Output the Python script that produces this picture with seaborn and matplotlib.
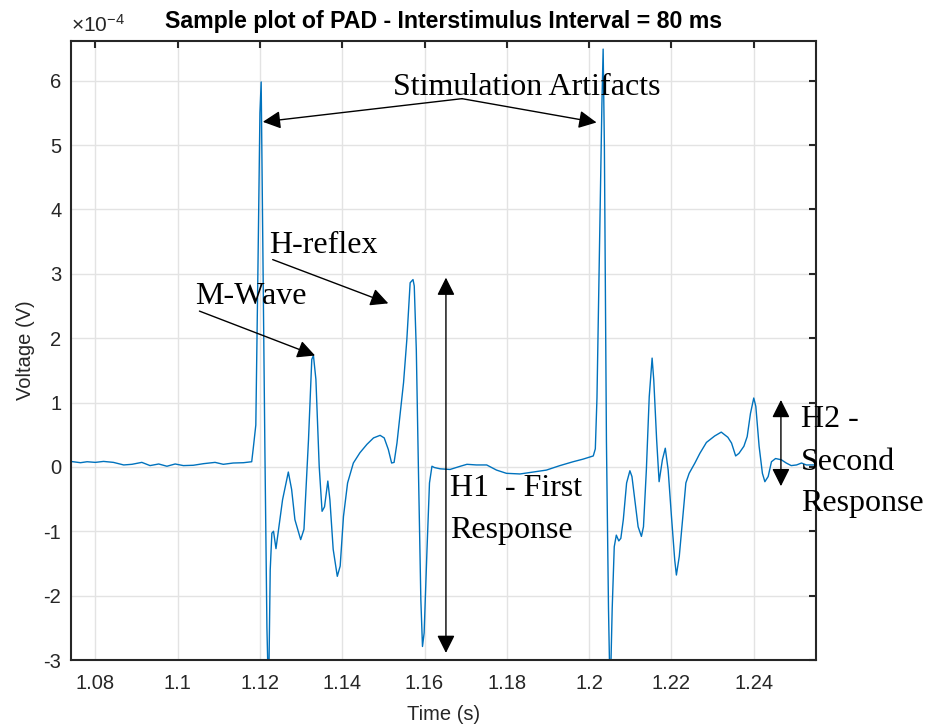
import numpy as np
import pandas as pd
import matplotlib
matplotlib.use("Agg")
import matplotlib.pyplot as plt
import seaborn as sns

# ---- data (time in s, voltage in units of 1e-4 V) ----
time_s = [
    1.0740, 1.0764, 1.0780, 1.0800, 1.0820, 1.0844, 1.0869, 1.0889, 1.0913, 1.0933,
    1.0954, 1.0974, 1.0994, 1.1014, 1.1038, 1.1063, 1.1091, 1.1111, 1.1135, 1.1160,
    1.1180, 1.1184, 1.1190, 1.1195, 1.1200, 1.1203, 1.1207, 1.1212, 1.1217, 1.1221,
    1.1225, 1.1229, 1.1233, 1.1239, 1.1255, 1.1269, 1.1277, 1.1285, 1.1299, 1.1307,
    1.1318, 1.1326, 1.1330, 1.1336, 1.1344, 1.1351, 1.1357, 1.1365, 1.1370, 1.1378,
    1.1388, 1.1395, 1.1403, 1.1413, 1.1427, 1.1443, 1.1460, 1.1476, 1.1492, 1.1502,
    1.1512, 1.1520, 1.1526, 1.1533, 1.1541, 1.1549, 1.1557, 1.1565, 1.1572, 1.1575,
    1.1580, 1.1585, 1.1591, 1.1595, 1.1599, 1.1606, 1.1612, 1.1618, 1.1624, 1.1638,
    1.1662, 1.1687, 1.1703, 1.1726, 1.1751, 1.1775, 1.1799, 1.1832, 1.1864, 1.1896,
    1.1929, 1.1961, 1.1985, 1.2010, 1.2015, 1.2019, 1.2026, 1.2031, 1.2034, 1.2037,
    1.2042, 1.2047, 1.2051, 1.2056, 1.2061, 1.2066, 1.2072, 1.2077, 1.2083, 1.2091,
    1.2099, 1.2104, 1.2111, 1.2119, 1.2127, 1.2132, 1.2139, 1.2146, 1.2153, 1.2157,
    1.2164, 1.2170, 1.2178, 1.2185, 1.2192, 1.2200, 1.2208, 1.2212, 1.2219, 1.2227,
    1.2235, 1.2243, 1.2257, 1.2269, 1.2285, 1.2305, 1.2321, 1.2337, 1.2346, 1.2356,
    1.2364, 1.2376, 1.2384, 1.2392, 1.2400, 1.2405, 1.2413, 1.2421, 1.2427, 1.2435,
    1.2443, 1.2453, 1.2467, 1.2479, 1.2491, 1.2504, 1.2516, 1.2528, 1.2552,
]
voltage_e4 = [
    0.085, 0.065, 0.08, 0.07, 0.085, 0.07, 0.03, 0.04, 0.07, 0.02,
    0.045, 0.01, 0.045, 0.02, 0.025, 0.05, 0.07, 0.04, 0.06, 0.065,
    0.08, 0.3, 0.65, 3.0, 5.5, 5.98, 3.5, 0.3, -2.5, -3.6,
    -1.6, -1.03, -1.0, -1.27, -0.51, -0.08, -0.35, -0.82, -1.13, -0.97,
    0.42, 1.67, 1.73, 1.36, 0.01, -0.69, -0.62, -0.22, -0.51, -1.28,
    -1.70, -1.54, -0.77, -0.25, 0.06, 0.22, 0.35, 0.45, 0.49, 0.45,
    0.27, 0.06, 0.07, 0.37, 0.84, 1.31, 1.98, 2.86, 2.91, 2.81,
    1.82, 0.01, -2.06, -2.79, -2.58, -1.28, -0.25, 0.01, -0.01, -0.03,
    -0.04, 0.01, 0.04, 0.03, 0.03, -0.05, -0.10, -0.11, -0.08, -0.05,
    0.02, 0.08, 0.12, 0.17, 0.28, 1.07, 3.68, 5.64, 6.49, 4.99,
    0.4, -2.2, -3.6, -2.2, -1.24, -1.06, -1.15, -1.11, -0.82, -0.25,
    -0.06, -0.15, -0.51, -0.93, -1.08, -0.93, -0.05, 1.09, 1.69, 1.35,
    0.42, -0.23, 0.11, 0.29, -0.05, -0.77, -1.45, -1.68, -1.39, -0.82,
    -0.25, -0.10, 0.06, 0.21, 0.38, 0.48, 0.54, 0.46, 0.37, 0.17,
    0.21, 0.32, 0.47, 0.83, 1.07, 0.94, 0.32, -0.10, -0.23, -0.15,
    0.08, 0.13, 0.11, 0.06, 0.02, 0.03, 0.06, 0.03, 0.03,
]
x_ticks = [1.08, 1.10, 1.12, 1.14, 1.16, 1.18, 1.20, 1.22, 1.24]
x_tick_labels = ["1.08", "1.1", "1.12", "1.14", "1.16", "1.18", "1.2", "1.22", "1.24"]
y_ticks = [-3, -2, -1, 0, 1, 2, 3, 4, 5, 6]

title_text = "Sample plot of PAD - Interstimulus Interval = 80 ms"

df = pd.DataFrame({"Time (s)": time_s, "Voltage": voltage_e4})

sns.set_theme(style="white")
plt.rcParams["font.family"] = ["Liberation Sans", "DejaVu Sans"]
plt.rcParams["axes.unicode_minus"] = False
plt.rcParams["mathtext.fontset"] = "custom"
plt.rcParams["mathtext.rm"] = "Liberation Sans"
plt.rcParams["mathtext.it"] = "Liberation Sans:italic"

axis_col = "#262626"
fig = plt.figure(figsize=(9.25, 7.26), dpi=100)
ax = fig.add_axes([0.0768, 0.0909, 0.8057, 0.853])

sns.lineplot(data=df, x="Time (s)", y="Voltage", ax=ax, color="#0072BD",
             linewidth=1.0, sort=False, estimator=None)

ax.set_xlim(1.0741, 1.2552)
ax.set_ylim(-3, 6.62)
ax.set_xticks(x_ticks)
ax.set_xticklabels(x_tick_labels)
ax.set_yticks(y_ticks)
ax.set_yticklabels([str(v) for v in y_ticks])

ax.grid(True, color="#e3e3e3", linewidth=1.0)
ax.set_axisbelow(True)
for sp in ax.spines.values():
    sp.set_color(axis_col)
    sp.set_linewidth(1.5)
    sp.set_visible(True)
ax.tick_params(direction="in", length=5, width=1.5, colors=axis_col,
               labelsize=14.5, top=True, right=True)
ax.tick_params(axis="x", pad=10)
ax.tick_params(axis="y", pad=7)

ax.set_xlabel("Time (s)", fontsize=14.5, color=axis_col, labelpad=9)
ax.set_ylabel("Voltage (V)", fontsize=14.5, color=axis_col, labelpad=6)
ax.set_title(title_text, fontsize=16.7, fontweight="bold", color="black", pad=9)

ax.text(0.0, 1.008, r"$\times\mathregular{10^{-4}}$", transform=ax.transAxes,
        ha="left", va="bottom", fontsize=15, color=axis_col)

# ---- annotations ----
serif = ["Liberation Serif", "DejaVu Serif"]
afs = 23
head = dict(arrowstyle="-|>,head_length=0.4,head_width=0.2", mutation_scale=27,
            color="black", lw=1.0, shrinkA=0, shrinkB=0)
dbl = dict(arrowstyle="<|-|>,head_length=0.4,head_width=0.2", mutation_scale=27,
           color="black", lw=1.0, shrinkA=0, shrinkB=0)

ax.text(1.1523, 5.77, "Stimulation Artifacts", family=serif, fontsize=afs,
        ha="left", va="baseline", color="black")
ax.annotate("", xy=(1.1207, 5.36), xytext=(1.1691, 5.72), arrowprops=head)
ax.annotate("", xy=(1.2018, 5.35), xytext=(1.1691, 5.72), arrowprops=head)

ax.text(1.1223, 3.33, "H-reflex", family=serif, fontsize=afs,
        ha="left", va="baseline", color="black")
ax.annotate("", xy=(1.1512, 2.54), xytext=(1.1231, 3.22), arrowprops=head)

ax.text(1.1042, 2.53, "M-Wave", family=serif, fontsize=afs,
        ha="left", va="baseline", color="black")
ax.annotate("", xy=(1.1334, 1.73), xytext=(1.1053, 2.42), arrowprops=head)

ax.annotate("", xy=(1.1652, 2.94), xytext=(1.1652, -2.89), arrowprops=dbl)
ax.text(1.1662, -0.45, "H1  - First", family=serif, fontsize=afs,
        ha="left", va="baseline", color="black")
ax.text(1.1662, -1.10, "Response", family=serif, fontsize=afs,
        ha="left", va="baseline", color="black")

ax.annotate("", xy=(1.2466, 1.04), xytext=(1.2466, -0.30), arrowprops=dbl)
for txt, yb in [("H2 -", 0.62), ("Second", -0.05), ("Response", -0.69)]:
    ax.text(1.2515, yb, txt, family=serif, fontsize=afs, ha="left",
            va="baseline", color="black", clip_on=False)

fig.savefig("out.png", dpi=100)
